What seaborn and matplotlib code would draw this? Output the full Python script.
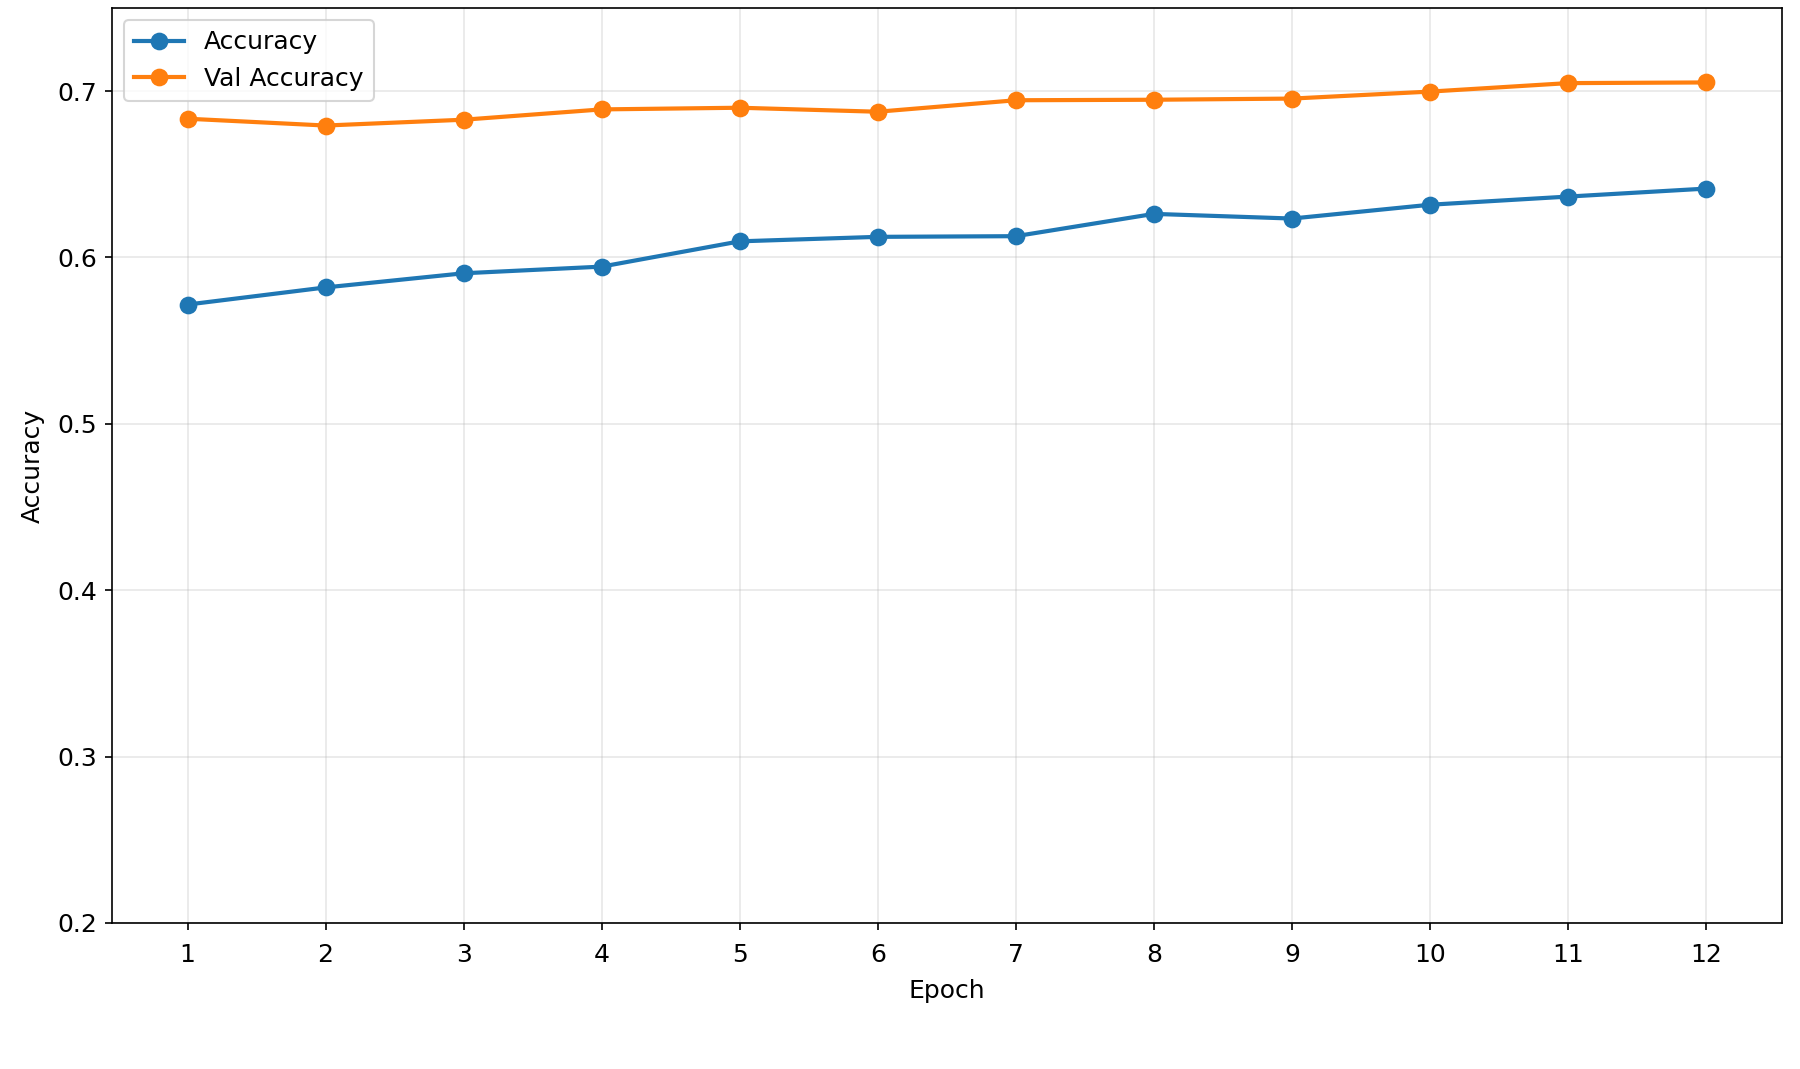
import numpy as np
import pandas as pd
import matplotlib
matplotlib.use("Agg")
import matplotlib.pyplot as plt
import seaborn as sns

# Datos
epochs = list(range(1, 13))
accuracy = [0.5717, 0.582, 0.5905, 0.5945, 0.6097, 0.6124, 0.6128, 0.6262, 0.6234, 0.6317, 0.6366, 0.6414]
val_accuracy = [0.6834, 0.6793, 0.6828, 0.689, 0.690, 0.6876, 0.6945, 0.6948, 0.6955, 0.6997, 0.7048, 0.7052]

df = pd.DataFrame({"Epoch": epochs, "Accuracy": accuracy, "Val Accuracy": val_accuracy})

plt.rcParams['font.family'] = ['DejaVu Sans']
plt.rcParams['font.size'] = 12
fig = plt.figure(figsize=(12, 1069 / 150), dpi=150)
ax = fig.add_axes([0.062, 0.1366, 0.928, 0.856])

sns.lineplot(data=df, x="Epoch", y="Accuracy", marker="o", markersize=8.5, markeredgewidth=0,
             linewidth=2, color="#1f77b4", label="Accuracy", ax=ax)
sns.lineplot(data=df, x="Epoch", y="Val Accuracy", marker="o", markersize=8.5, markeredgewidth=0,
             linewidth=2, color="#ff7f0e", label="Val Accuracy", ax=ax)

ax.set_xticks(epochs)
ax.set_ylim(0.2, 0.75)
ax.tick_params(axis="x", pad=6)
ax.set_xlabel("Epoch", labelpad=6)
ax.set_ylabel("Accuracy", labelpad=6)
ax.grid(True, alpha=0.3)
ax.legend(loc="upper left")

plt.savefig("out.png", dpi=150)
plt.close()
